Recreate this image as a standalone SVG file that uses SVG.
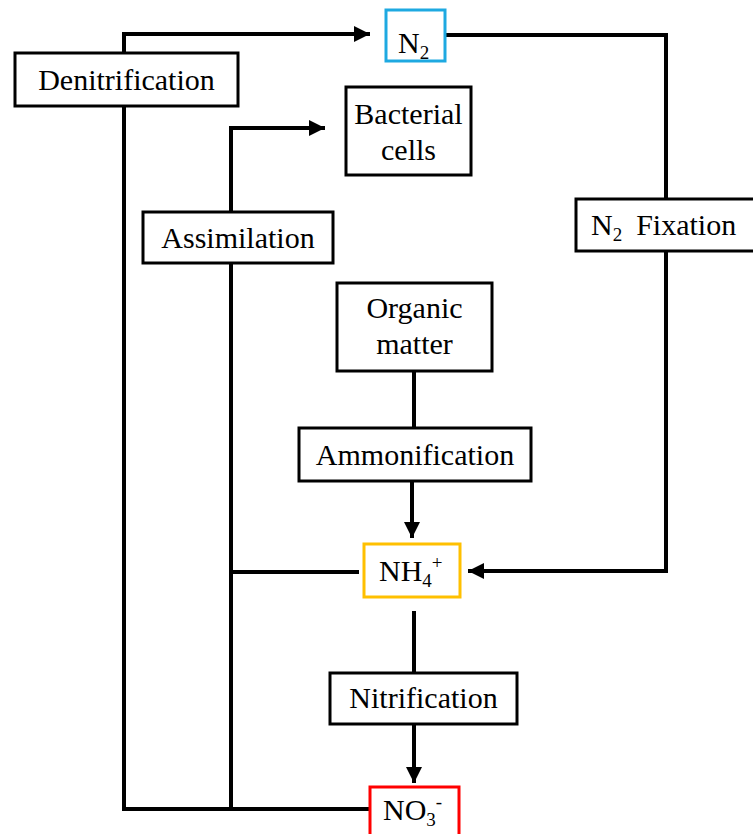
<svg xmlns="http://www.w3.org/2000/svg" width="753" height="834" viewBox="0 0 753 834">
<style>
.box{fill:#fff;stroke:#000;stroke-width:3}
.conn{fill:none;stroke:#000;stroke-width:4}
text{font-family:"Liberation Serif","Times New Roman",serif;font-size:30px;fill:#000}
.sub{font-size:19px}
</style>
<defs>
<marker id="ah" viewBox="0 0 10 10" refX="10" refY="5" markerWidth="4" markerHeight="4" markerUnits="strokeWidth" orient="auto">
<path d="M0,0 L10,5 L0,10 z" fill="#000"/>
</marker>
</defs>
<rect width="753" height="834" fill="#fff"/>
<g id="connectors">
<path class="conn" d="M124,106 V34 H370" marker-end="url(#ah)"/>
<path class="conn" d="M124,106 V809 H370"/>
<path class="conn" d="M445,35 H666 V199"/>
<path class="conn" d="M666,251 V571 H468" marker-end="url(#ah)"/>
<path class="conn" d="M231,212 V128 H325" marker-end="url(#ah)"/>
<path class="conn" d="M231,263 V809"/>
<path class="conn" d="M231,572 H359"/>
<path class="conn" d="M414,371 V428"/>
<path class="conn" d="M412,481 V538" marker-end="url(#ah)"/>
<path class="conn" d="M414,611 V673"/>
<path class="conn" d="M414,724 V783" marker-end="url(#ah)"/>
</g>
<g id="n2">
<rect x="386" y="10" width="59" height="51" fill="#fff" stroke="#1EA9E1" stroke-width="3"/>
<text x="398" y="53">N<tspan class="sub" dy="6">2</tspan></text>
</g>
<g id="denitrification">
<rect class="box" x="15" y="53" width="223" height="53"/>
<text x="126.5" y="90" text-anchor="middle">Denitrification</text>
</g>
<g id="bacterial-cells">
<rect class="box" x="346" y="87" width="125" height="88"/>
<text x="408.5" y="124" text-anchor="middle">Bacterial</text>
<text x="408.5" y="160" text-anchor="middle">cells</text>
</g>
<g id="assimilation">
<rect class="box" x="143" y="212" width="190" height="51"/>
<text x="238" y="248" text-anchor="middle">Assimilation</text>
</g>
<g id="n2-fixation">
<rect class="box" x="576" y="199" width="180" height="52"/>
<text x="591" y="235">N<tspan class="sub" dy="6">2</tspan><tspan dy="-6" dx="14">Fixation</tspan></text>
</g>
<g id="organic-matter">
<rect class="box" x="337" y="283" width="155" height="88"/>
<text x="414.5" y="318" text-anchor="middle">Organic</text>
<text x="414.5" y="354" text-anchor="middle">matter</text>
</g>
<g id="ammonification">
<rect class="box" x="299" y="428" width="232" height="53"/>
<text x="415" y="465" text-anchor="middle">Ammonification</text>
</g>
<g id="nh4">
<rect x="364" y="544" width="96" height="53" fill="#fff" stroke="#FFC000" stroke-width="3"/>
<text x="379" y="581">NH<tspan class="sub" dy="6">4</tspan><tspan class="sub" dy="-18">+</tspan></text>
</g>
<g id="nitrification">
<rect class="box" x="330" y="673" width="187" height="51"/>
<text x="423.5" y="708" text-anchor="middle">Nitrification</text>
</g>
<g id="no3">
<rect x="370" y="787" width="89" height="60" fill="#fff" stroke="#FF0000" stroke-width="3"/>
<text x="383" y="820">NO<tspan class="sub" dy="6">3</tspan><tspan class="sub" dy="-18">-</tspan></text>
</g>
</svg>
